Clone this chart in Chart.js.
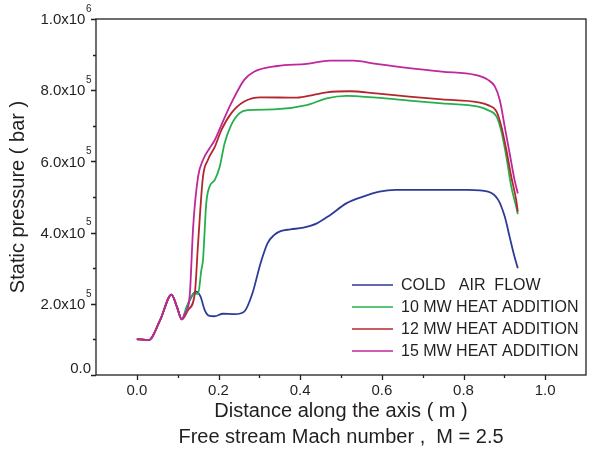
<!DOCTYPE html>
<html>
<head>
<meta charset="utf-8">
<script src="https://cdn.jsdelivr.net/npm/chart.js@4/dist/chart.umd.min.js"></script>
<style>
  html, body { margin: 0; padding: 0; background: #fff; }
</style>
</head>
<body>
<canvas id="chart" width="593" height="454"></canvas>
<script>
// distance along the axis (m) and static pressure (bar)

const coldX = [0, 0.029, 0.057, 0.085, 0.098, 0.110, 0.130, 0.145, 0.156, 0.166, 0.176, 0.190, 0.211, 0.240, 0.263, 0.283, 0.303, 0.320, 0.336, 0.352, 0.376, 0.408, 0.441, 0.473, 0.513, 0.554, 0.594, 0.634, 0.700, 0.747, 0.811, 0.860, 0.885, 0.901, 0.913, 0.925, 0.933];
const coldY = [1.01e5, 0.98e5, 1.54e5, 2.26e5, 1.92e5, 1.56e5, 2.11e5, 2.34e5, 2.20e5, 1.83e5, 1.67e5, 1.65e5, 1.72e5, 1.71e5, 1.78e5, 2.29e5, 3.14e5, 3.70e5, 3.93e5, 4.04e5, 4.09e5, 4.14e5, 4.26e5, 4.49e5, 4.82e5, 5.01e5, 5.15e5, 5.20e5, 5.20e5, 5.20e5, 5.20e5, 5.15e5, 4.92e5, 4.45e5, 3.88e5, 3.32e5, 3.00e5];

const mw10X = [0, 0.029, 0.057, 0.085, 0.098, 0.110, 0.122, 0.140, 0.150, 0.158, 0.162, 0.170, 0.178, 0.191, 0.203, 0.215, 0.231, 0.251, 0.271, 0.336, 0.416, 0.465, 0.513, 0.586, 0.667, 0.747, 0.836, 0.860, 0.881, 0.893, 0.905, 0.917, 0.929, 0.933];
const mw10Y = [1.01e5, 0.98e5, 1.54e5, 2.26e5, 1.92e5, 1.56e5, 1.92e5, 2.29e5, 2.28e5, 2.95e5, 3.23e5, 4.82e5, 5.29e5, 5.48e5, 5.85e5, 6.51e5, 7.02e5, 7.35e5, 7.44e5, 7.46e5, 7.58e5, 7.77e5, 7.84e5, 7.79e5, 7.71e5, 7.63e5, 7.54e5, 7.44e5, 7.26e5, 6.83e5, 6.13e5, 5.29e5, 4.73e5, 4.52e5];

const mw12X = [0, 0.029, 0.057, 0.085, 0.098, 0.110, 0.126, 0.142, 0.150, 0.162, 0.174, 0.191, 0.207, 0.231, 0.263, 0.303, 0.392, 0.433, 0.465, 0.521, 0.586, 0.667, 0.747, 0.836, 0.860, 0.881, 0.893, 0.905, 0.917, 0.929, 0.933];
const mw12Y = [1.01e5, 0.98e5, 1.54e5, 2.26e5, 1.92e5, 1.56e5, 1.83e5, 2.29e5, 3.70e5, 5.57e5, 6.04e5, 6.41e5, 6.88e5, 7.35e5, 7.68e5, 7.80e5, 7.79e5, 7.87e5, 7.94e5, 7.97e5, 7.91e5, 7.82e5, 7.74e5, 7.66e5, 7.58e5, 7.40e5, 6.97e5, 6.32e5, 5.57e5, 4.92e5, 4.59e5];

const mw15X = [0, 0.029, 0.057, 0.085, 0.098, 0.110, 0.118, 0.126, 0.130, 0.138, 0.150, 0.162, 0.178, 0.191, 0.207, 0.231, 0.263, 0.287, 0.344, 0.416, 0.473, 0.530, 0.586, 0.667, 0.747, 0.828, 0.860, 0.877, 0.889, 0.901, 0.913, 0.925, 0.933];
const mw15Y = [1.01e5, 0.98e5, 1.54e5, 2.26e5, 1.92e5, 1.56e5, 1.73e5, 1.92e5, 2.30e5, 4.17e5, 5.57e5, 6.04e5, 6.37e5, 6.60e5, 7.02e5, 7.63e5, 8.29e5, 8.52e5, 8.68e5, 8.74e5, 8.83e5, 8.83e5, 8.74e5, 8.62e5, 8.52e5, 8.43e5, 8.29e5, 8.10e5, 7.72e5, 6.97e5, 6.23e5, 5.48e5, 5.10e5];

const seriesLabels = ['COLD   AIR  FLOW', '10 MW HEAT ADDITION', '12 MW HEAT ADDITION', '15 MW HEAT ADDITION'];
const seriesColors = ['#2e3a98', '#25b04c', '#b3282e', '#c0279c'];

const xTickValues = [0, 0.2, 0.4, 0.6, 0.8, 1.0];
const xTickLabels = ['0.0', '0.2', '0.4', '0.6', '0.8', '1.0'];
const yTickValues = [0, 2e5, 4e5, 6e5, 8e5, 1e6];
const yTickMain = ['0.0', '2.0x10', '4.0x10', '6.0x10', '8.0x10', '1.0x10'];
const yTickExp = ['', '5', '5', '5', '5', '6'];

const FONT = '"Liberation Sans", Arial, sans-serif';
const INK = '#231f20';

function toPoints(xs, ys) {
  return xs.map((x, i) => ({ x: x, y: ys[i] }));
}

function isMajorX(v) {
  return xTickValues.findIndex((t) => Math.abs(t - v) < 1e-6);
}

// frame, tick marks, y labels with exponents, legend inside the plot
const decorations = {
  id: 'decorations',
  afterDraw(chart) {
    const ctx = chart.ctx;
    const a = chart.chartArea;
    const xs = chart.scales.x;
    const ys = chart.scales.y;
    ctx.save();
    ctx.strokeStyle = INK;
    ctx.lineWidth = 1.3;
    ctx.strokeRect(a.left, a.top, a.right - a.left, a.bottom - a.top);

    // x tick marks
    ctx.beginPath();
    xs.ticks.forEach((t) => {
      if (t.value <= -0.1 + 1e-6 || t.value >= 1.1 - 1e-6) return;
      const px = Math.round(xs.getPixelForValue(t.value)) + 0.5;
      const len = isMajorX(t.value) >= 0 ? 5 : 3;
      ctx.moveTo(px, a.bottom);
      ctx.lineTo(px, a.bottom + len);
    });
    // y tick marks, every 1e5
    for (let v = 0; v <= 1e6 + 1; v += 1e5) {
      const py = Math.round(ys.getPixelForValue(v)) + 0.5;
      const major = yTickValues.some((t) => Math.abs(t - v) < 1);
      ctx.moveTo(a.left, py);
      ctx.lineTo(a.left - (major ? 5 : 3), py);
    }
    ctx.stroke();

    // y tick labels
    ctx.fillStyle = INK;
    ctx.textBaseline = 'middle';
    ctx.textAlign = 'left';
    yTickValues.forEach((v, i) => {
      const py = ys.getPixelForValue(v);
      ctx.font = '15px ' + FONT;
      const wm = ctx.measureText(yTickMain[i]).width;
      ctx.font = '10px ' + FONT;
      const we = yTickExp[i] ? ctx.measureText(yTickExp[i]).width : 0;
      const x0 = 91 - wm - we;
      ctx.font = '15px ' + FONT;
      ctx.fillText(yTickMain[i], x0, v === 0 ? py - 6 : py + 1);
      if (yTickExp[i]) {
        ctx.font = '10px ' + FONT;
        ctx.fillText(yTickExp[i], x0 + wm + 0.5, py - 10);
      }
    });

    // legend
    ctx.font = '16px ' + FONT;
    chart.data.datasets.forEach((ds, i) => {
      const y = 285 + i * 22;
      ctx.strokeStyle = ds.borderColor;
      ctx.lineWidth = 1.6;
      ctx.beginPath();
      ctx.moveTo(352, y);
      ctx.lineTo(393, y);
      ctx.stroke();
      ctx.fillStyle = INK;
      ctx.fillText(ds.label, 401, y + 1);
    });
    ctx.restore();
  }
};

Chart.defaults.font.family = FONT;
Chart.defaults.color = INK;

new Chart(document.getElementById('chart'), {
  type: 'line',
  data: {
    datasets: [
      { label: seriesLabels[0], data: toPoints(coldX, coldY), borderColor: seriesColors[0], order: 3 },
      { label: seriesLabels[1], data: toPoints(mw10X, mw10Y), borderColor: seriesColors[1], order: 2 },
      { label: seriesLabels[2], data: toPoints(mw12X, mw12Y), borderColor: seriesColors[2], order: 1 },
      { label: seriesLabels[3], data: toPoints(mw15X, mw15Y), borderColor: seriesColors[3], order: 0 },
    ],
  },
  options: {
    responsive: false,
    animation: false,
    layout: { padding: { top: 19, right: 1, left: 0, bottom: 0 } },
    elements: {
      point: { radius: 0 },
      line: { borderWidth: 1.8, cubicInterpolationMode: 'monotone', fill: false },
    },
    plugins: { legend: { display: false }, tooltip: { enabled: false } },
    scales: {
      x: {
        type: 'linear',
        min: -0.1,
        max: 1.1,
        grid: { display: false, drawTicks: false },
        border: { display: false },
        ticks: {
          stepSize: 0.1,
          autoSkip: false,
          maxRotation: 0,
          padding: 7,
          font: { size: 15 },
          color: INK,
          callback: (v) => {
            const i = isMajorX(v);
            return i >= 0 ? xTickLabels[i] : '';
          },
        },
        title: {
          display: true,
          text: ['Distance along the axis ( m )', 'Free stream Mach number ,  M = 2.5'],
          font: { size: 20, lineHeight: 1.3 },
          color: INK,
          padding: { top: 0, bottom: 4 },
        },
        afterFit: (s) => { s.height = 79; },
      },
      y: {
        min: 0,
        max: 1e6,
        grid: { display: false, drawTicks: false },
        border: { display: false },
        ticks: { display: false, stepSize: 1e5 },
        title: {
          display: true,
          text: 'Static pressure ( bar )',
          font: { size: 20 },
          color: INK,
          padding: { top: 6, bottom: 0 },
        },
        afterFit: (s) => { s.width = 96; },
      },
    },
  },
  plugins: [decorations],
});
</script>
</body>
</html>
